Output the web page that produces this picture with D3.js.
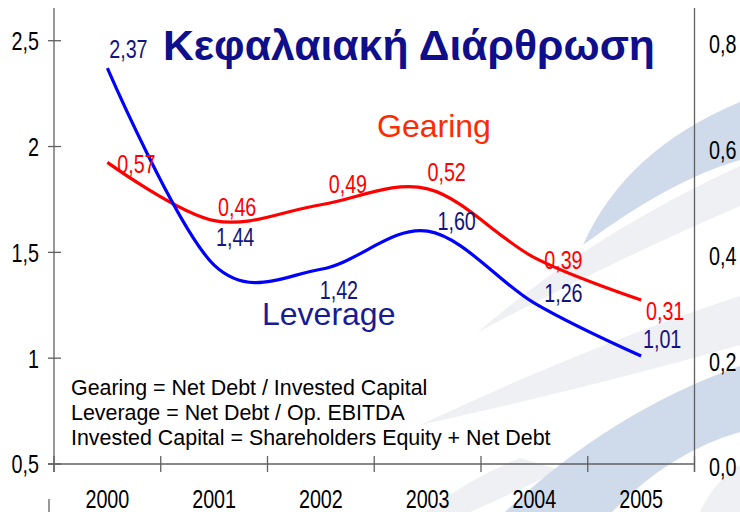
<!DOCTYPE html>
<html>
<head>
<meta charset="utf-8">
<script src="https://cdn.jsdelivr.net/npm/d3@7"></script>
<style>
  html, body { margin: 0; padding: 0; background: #ffffff; }
  svg { display: block; }
  .sans { font-family: 'Liberation Sans', Arial, sans-serif; }
</style>
</head>
<body>
<svg id="chart" width="740" height="512"></svg>
<script>
// ---- data ----
const years = ["2000", "2001", "2002", "2003", "2004", "2005"];
const leverage = [2.37, 1.44, 1.42, 1.60, 1.26, 1.01];
const gearing = [0.57, 0.46, 0.49, 0.52, 0.39, 0.31];
const leverageLabels = ["2,37", "1,44", "1,42", "1,60", "1,26", "1,01"];
const gearingLabels = ["0,57", "0,46", "0,49", "0,52", "0,39", "0,31"];
const leftTicks = [0.5, 1, 1.5, 2, 2.5];
const leftTickLabels = ["0,5", "1", "1,5", "2", "2,5"];
const rightTicks = [0, 0.2, 0.4, 0.6, 0.8];
const rightTickLabels = ["0,0", "0,2", "0,4", "0,6", "0,8"];
const titleText = "Κεφαλαιακή Διάρθρωση";
const notes = [
  "Gearing = Net Debt / Invested Capital",
  "Leverage = Net Debt / Op. EBITDA",
  "Invested Capital = Shareholders Equity + Net Debt"
];

// ---- layout ----
const svg = d3.select("#chart");
const L = 54, R = 694.5, B = 464, T = 40.7, axisTop = 8;
const NARROW = 0.76, NSIZE = 26;
const levOffsets = [[21, -20], [21, -28], [18, 20], [29, -11], [29, -11], [21, -17]];
const gearOffsets = [[29, 1], [23, -14], [27, -21], [19, -17], [29, 2], [24, 11]];

// ---- background swooshes ----
const bg = svg.append("g");
const swooshes = [
  {c: "#eef0f3", d: "M478,332 Q590,235 740,166 L740,206 Q610,262 478,332 Z"},
  {c: "#eef0f3", d: "M420,425 Q590,345 740,296 L740,345 Q600,385 420,425 Z"},
  {c: "#eef0f3", d: "M425,512 Q470,478 520,458 L560,470 Q520,490 470,512 Z"},
  {c: "#cfdaea", d: "M583,245 Q625,150 740,102 L740,160 Q670,180 583,245 Z"},
  {c: "#cfdaea", d: "M505,512 Q610,412 740,366 L740,432 Q670,452 612,512 Z"},
  {c: "#eef0f3", d: "M700,512 Q715,480 740,465 L740,512 Z"}
];
bg.selectAll("path").data(swooshes).join("path")
  .attr("d", d => d.d).attr("fill", d => d.c);

// ---- scales ----
const x = d3.scalePoint().domain(years).range([L, R]).padding(0.5);
const step = x.step();
const yL = d3.scaleLinear().domain([0.5, 2.5]).range([B, T]);
const yR = d3.scaleLinear().domain([0, 0.8]).range([B, T]);

// narrow text helper: condensed look via horizontal scaling
function narrowText(g, data, fx, fy, txt, anchor, fill) {
  return g.selectAll("text").data(data).join("text")
    .attr("class", "sans")
    .attr("transform", (d, i) => `translate(${fx(d, i)},${fy(d, i)}) scale(${NARROW},1)`)
    .attr("font-size", NSIZE).attr("fill", fill)
    .attr("dy", "0.36em").attr("text-anchor", anchor)
    .text(txt);
}

// ---- axes ----
const axisColor = "#606060";
const ax = svg.append("g").attr("stroke", axisColor).attr("stroke-width", 1.3);
ax.append("line").attr("x1", L).attr("x2", L).attr("y1", axisTop).attr("y2", B + 8);
ax.append("line").attr("x1", R).attr("x2", R).attr("y1", axisTop).attr("y2", B + 8);
ax.append("line").attr("x1", L - 6).attr("x2", R).attr("y1", B).attr("y2", B);
ax.selectAll(".lt").data(leftTicks).join("line")
  .attr("x1", L - 6).attr("x2", L + 7)
  .attr("y1", d => yL(d)).attr("y2", d => yL(d));
ax.selectAll(".bt").data(d3.range(years.length)).join("line")
  .attr("x1", i => L + (i + 1) * step).attr("x2", i => L + (i + 1) * step)
  .attr("y1", B - 8).attr("y2", B + 8);
ax.append("line").attr("x1", L).attr("x2", L).attr("y1", B - 8).attr("y2", B + 8);
ax.append("line").attr("x1", 49).attr("x2", 49).attr("y1", 499).attr("y2", 512);

// tick labels
narrowText(svg.append("g"), leftTicks, () => 39, d => yL(d),
  (d, i) => leftTickLabels[i], "end", "#000");
narrowText(svg.append("g"), rightTicks, () => 709, d => yR(d) + 3,
  (d, i) => rightTickLabels[i], "start", "#000");
narrowText(svg.append("g"), years, d => x(d), () => 499,
  d => d, "middle", "#000");

// ---- lines ----
const curve = d3.curveCardinal.tension(0);
const levLine = d3.line().x((d, i) => x(years[i])).y(d => yL(d)).curve(curve);
const gearLine = d3.line().x((d, i) => x(years[i])).y(d => yR(d)).curve(curve);
svg.append("path").attr("d", gearLine(gearing)).attr("fill", "none")
  .attr("stroke", "#ff0000").attr("stroke-width", 3.2).attr("stroke-linejoin", "round");
svg.append("path").attr("d", levLine(leverage)).attr("fill", "none")
  .attr("stroke", "#0000ff").attr("stroke-width", 3.2).attr("stroke-linejoin", "round");

// ---- data labels ----
narrowText(svg.append("g"), gearing,
  (d, i) => x(years[i]) + gearOffsets[i][0], (d, i) => yR(d) + gearOffsets[i][1],
  (d, i) => gearingLabels[i], "middle", "#ff0000");
narrowText(svg.append("g"), leverage,
  (d, i) => x(years[i]) + levOffsets[i][0], (d, i) => yL(d) + levOffsets[i][1],
  (d, i) => leverageLabels[i], "middle", "#14147e");

// ---- titles ----
const title = svg.append("text").attr("class", "sans")
  .attr("x", 163).attr("y", 60).attr("font-size", 40).attr("font-weight", "bold")
  .attr("fill", "#0f0f8c").text(titleText);
const tw = title.node().getComputedTextLength();
title.attr("font-size", 40 * 492 / tw);

svg.append("text").attr("class", "sans").attr("x", 377).attr("y", 137)
  .attr("font-size", 32).attr("fill", "#ff2a00").text("Gearing");
svg.append("text").attr("class", "sans").attr("x", 262).attr("y", 325)
  .attr("font-size", 32).attr("fill", "#1a1a96").text("Leverage");

// ---- notes ----
const ng = svg.append("g").attr("class", "sans").attr("fill", "#000");
const nt = ng.selectAll("text").data(notes).join("text")
  .attr("x", 71).attr("y", (d, i) => 395 + i * 25)
  .attr("font-size", 19).text(d => d);
const w3 = nt.nodes()[2].getComputedTextLength();
nt.attr("font-size", 19 * 480 / w3);
</script>
</body>
</html>
